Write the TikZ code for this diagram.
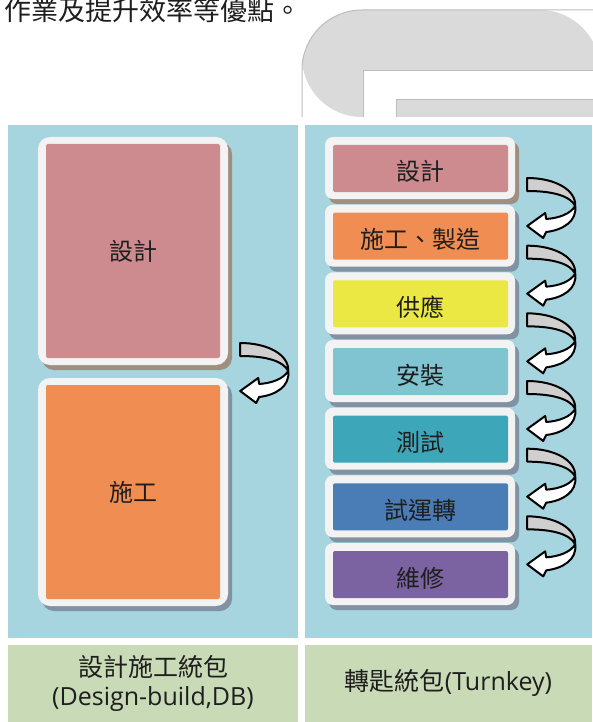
\documentclass[tikz,border=0pt]{standalone}
\usepackage{fontspec}
\newfontfamily\cjk{Noto Sans CJK TC}
\newfontfamily\latin{Open Sans}
\usetikzlibrary{calc}
\definecolor{panelblue}{HTML}{A6D4DF}
\definecolor{panelgreen}{HTML}{C9DAB6}
\definecolor{framewhite}{HTML}{F3F3F3}
\definecolor{cpink}{HTML}{CD8A8F}
\definecolor{corange}{HTML}{EF8D52}
\definecolor{cyellow}{HTML}{EBE843}
\definecolor{clteal}{HTML}{80C4D1}
\definecolor{cteal}{HTML}{3EA6B9}
\definecolor{cblue}{HTML}{4A7DB5}
\definecolor{cpurple}{HTML}{7A63A0}
\definecolor{shbrown}{HTML}{A08E80}
\definecolor{shgray}{HTML}{8193A2}
\definecolor{topgray}{HTML}{DADADA}
\definecolor{topline}{HTML}{BDBDBD}
\definecolor{arrowgray}{HTML}{CFCFCF}
\definecolor{txt}{HTML}{1E1E1E}
\tikzset{
  blocktext/.style={font=\cjk\fontsize{24}{29}\selectfont, text=txt, inner sep=0pt},
  innerbox/.style={blocktext, fill=#1, rounded corners=2pt},
  lowtext/.style={text height=25pt, text depth=0pt},
  arrowline/.style={draw=black, line width=2pt, line join=round},
  uarrow/.pic={
    \draw[arrowline, fill=arrowgray] (0,0) .. controls (28,0) and (49,12) .. (48,28)
      .. controls (43,18) and (26,13) .. (0,13) -- cycle;
    \draw[arrowline, fill=white] (48,28) .. controls (50,43) and (36,52) .. (19,54)
      -- (16,60) -- (0,48) -- (18,35) -- (19,41)
      .. controls (32,40) and (43,36) .. (48,28) -- cycle;
  }
}
\begin{document}
\begin{tikzpicture}[x=1pt,y=-1pt]
\useasboundingbox (0,0) rectangle (592,722);
\fill[white] (0,0) rectangle (592,722);
% top text
\node[anchor=base west, inner sep=0pt, font=\cjk\fontsize{27}{30}\selectfont, text=txt] (toptext) at (4,21) {作業及提升效率等優點。};
% gray screen shape top right
\fill[topgray, rounded corners=60] (302,117) -- (302,10) -- (600,10) -- (600,117) -- cycle;
\draw[topline, line width=1pt, rounded corners=60] (302,117) -- (302,10) -- (600,10);
\fill[white] (363,71) rectangle (600,117);
\draw[topline, line width=1pt] (363,117) -- (363,71) -- (600,71);
\fill[topgray] (396,100) rectangle (600,117);
\draw[topline, line width=1pt] (396,117) -- (396,100) -- (600,100);
% panels
\fill[panelblue] (8,125) rectangle (298,638);
\fill[panelblue] (305,125) rectangle (592,638);
\fill[panelgreen] (8,645) rectangle (298,722);
\fill[panelgreen] (305,645) rectangle (592,722);
% left blocks
\fill[shbrown, rounded corners=12] (42,142) rectangle (232,370);
\fill[framewhite, rounded corners=12] (38,137) rectangle (228,365);
\node[innerbox=cpink, minimum width=174pt, minimum height=214pt] (lA) at (133,251) {設計};
\fill[shgray, rounded corners=12] (42,383) rectangle (232,611);
\fill[framewhite, rounded corners=12] (38,378) rectangle (228,606);
\node[innerbox=corange, minimum width=174pt, minimum height=214pt] (lB) at (133,492) {施工};
\pic at ([shift={(20,92)}]lA.east) {uarrow};
% right blocks
\foreach \i/\col/\sh/\lab in {0/cpink/shbrown/設計, 1/corange/shgray/施工、製造, 2/cyellow/shgray/供應, 3/clteal/shgray/安裝, 4/cteal/shgray/測試, 5/cblue/shgray/試運轉, 6/cpurple/shgray/維修}{
  \pgfmathsetmacro\ytop{137+67.67*\i}
  \fill[\sh, rounded corners=8] (329,\ytop+5) rectangle +(190,62);
  \fill[framewhite, rounded corners=8] (325,\ytop) rectangle +(190,62);
  \node[innerbox=\col, lowtext, minimum width=175pt, minimum height=47pt] (r\i) at (420.5,\ytop+31.5) {\lab};
}
\foreach \i in {0,...,5}{
  \pic at ([shift={(19,9.5)}]r\i.east) {uarrow};
}
% bottom labels
\node[blocktext, align=center, font=\cjk\fontsize{25}{29}\selectfont] (dbl) at (153,683) {設計施工統包\\{\latin (Design-build,DB)}};
\node[blocktext, font=\cjk\fontsize{25}{29}\selectfont] (tkl) at (448.5,683) {轉匙統包{\latin (Turnkey)}};
\end{tikzpicture}
\end{document}
